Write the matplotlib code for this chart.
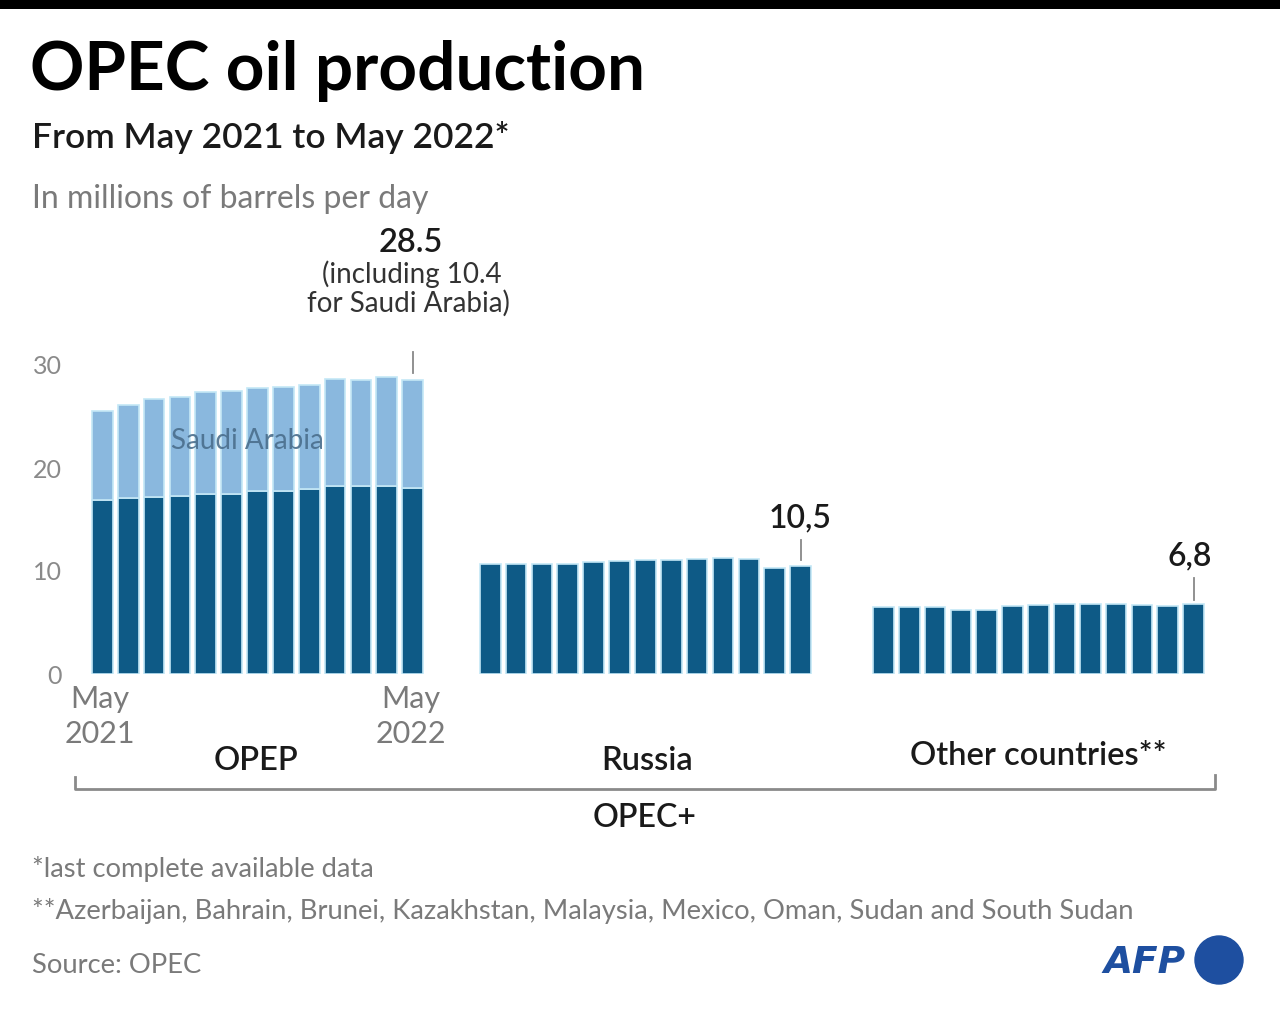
import numpy as np
import matplotlib
matplotlib.use('Agg')
import matplotlib.pyplot as plt
from matplotlib.patches import Circle
from matplotlib.transforms import IdentityTransform

# ── Data (millions of barrels per day, May 2021 -> May 2022) ──
months = ['May 2021', 'Jun', 'Jul', 'Aug', 'Sep', 'Oct', 'Nov', 'Dec',
          'Jan', 'Feb', 'Mar', 'Apr', 'May 2022']
opec_excl_saudi = [16.9, 17.1, 17.2, 17.3, 17.5, 17.5, 17.8, 17.8, 18.0, 18.3, 18.3, 18.3, 18.1]
saudi_arabia = [8.6, 9.0, 9.5, 9.6, 9.9, 10.0, 10.0, 10.1, 10.1, 10.3, 10.2, 10.5, 10.4]
russia = [10.7, 10.7, 10.7, 10.7, 10.9, 11.0, 11.1, 11.1, 11.2, 11.3, 11.2, 10.3, 10.5]
others = [6.5, 6.5, 6.5, 6.2, 6.2, 6.6, 6.7, 6.8, 6.8, 6.8, 6.7, 6.6, 6.8]
group_names = ['OPEP', 'Russia', 'Other countries**']
yticks = [0, 10, 20, 30]

DARK = '#0e5a86'
LIGHT = '#8ab8de'
EDGE = '#c4e7f6'
GREY = '#7a7a7a'
TEXT = '#1a1a1a'
FONT = 'Lato'

W, H = 1280, 1009
fig = plt.figure(figsize=(W / 100, H / 100), dpi=100)
fig.patch.set_facecolor('white')
plt.rcParams['font.family'] = [FONT, 'DejaVu Sans']


def fx(px):
    return px / W


def fy(py):
    return 1 - py / H


def ftext(px, py, s, **kw):
    fig.text(fx(px), fy(py), s, **kw)


# top black band
fig.add_artist(plt.Rectangle((0, fy(9)), 1, 9 / H, transform=fig.transFigure,
                             color='black', lw=0))

# ── Axes placed in pixel space ──
pitch = 25.86
ax_l, ax_r, ax_b, ax_t = 80, 1215, 674, 340
ax = fig.add_axes([fx(ax_l), fy(ax_b), (ax_r - ax_l) / W, (ax_b - ax_t) / H])
ax.set_xlim(-0.4 - (92 - ax_l) / pitch, -0.4 + (ax_r - 92) / pitch)
ax.set_ylim(0, (ax_b - ax_t) / 10.3)
for s in ax.spines.values():
    s.set_visible(False)
ax.set_xticks([])
ax.set_yticks(yticks)
ax.set_yticklabels([str(v) for v in yticks], fontsize=18, color='#8a8a8a')
ax.tick_params(axis='y', length=0, pad=13)
ax.patch.set_alpha(0)

offsets = [0, 15, 30.2]
n = len(months)
x0 = np.arange(n) + offsets[0]
x1 = np.arange(n) + offsets[1]
x2 = np.arange(n) + offsets[2]

ax.bar(x0, opec_excl_saudi, width=0.8, color=DARK, edgecolor=EDGE, linewidth=1.2)
ax.bar(x0, saudi_arabia, bottom=opec_excl_saudi, width=0.8, color=LIGHT,
       edgecolor=EDGE, linewidth=1.2)
ax.bar(x1, russia, width=0.8, color=DARK, edgecolor=EDGE, linewidth=1.2)
ax.bar(x2, others, width=0.8, color=DARK, edgecolor=EDGE, linewidth=1.2)

ax.text(5.6, 22.6, 'Saudi Arabia', ha='center', va='center', fontsize=20,
        color='#4a6e8c', alpha=0.9)

# leader ticks above last bars
tot_last = opec_excl_saudi[-1] + saudi_arabia[-1]
ax.plot([x0[-1], x0[-1]], [tot_last + 0.7, tot_last + 2.8], color='#888888', lw=1.3, clip_on=False)
ax.plot([x1[-1], x1[-1]], [russia[-1] + 0.6, russia[-1] + 2.5], color='#888888', lw=1.3, clip_on=False)
ax.plot([x2[-1], x2[-1]], [others[-1] + 0.4, others[-1] + 2.5], color='#888888', lw=1.3, clip_on=False)

# ── Titles ──
ftext(30, 90, 'OPEC oil production', fontsize=48.5, fontweight='bold', color='black', va='baseline')
ftext(32, 148, 'From May 2021 to May 2022*', fontsize=25.5, fontweight='semibold', color=TEXT, va='baseline')
ftext(32, 208, 'In millions of barrels per day', fontsize=23, color=GREY, va='baseline')

# annotations
ftext(411, 252, f'{tot_last:.1f}', fontsize=23.5, fontweight='semibold', color=TEXT, ha='center', va='baseline')
ftext(412, 283, f'(including {saudi_arabia[-1]:.1f}', fontsize=20, color='#333333', ha='center', va='baseline')
ftext(408, 312, 'for Saudi Arabia)', fontsize=20, color='#333333', ha='center', va='baseline')
ftext(800, 527, f'{russia[-1]:.1f}'.replace('.', ','), fontsize=23, fontweight='semibold', color=TEXT,
      ha='center', va='baseline')
ftext(1190, 565, f'{others[-1]:.1f}'.replace('.', ','), fontsize=23, fontweight='semibold', color=TEXT,
      ha='center', va='baseline')

# x labels
ftext(100, 708, 'May', fontsize=22, color=GREY, ha='center', va='baseline')
ftext(100, 743, '2021', fontsize=22, color=GREY, ha='center', va='baseline')
ftext(411, 708, 'May', fontsize=22, color=GREY, ha='center', va='baseline')
ftext(411, 743, '2022', fontsize=22, color=GREY, ha='center', va='baseline')

ftext(256, 770, group_names[0], fontsize=23.5, fontweight='semibold', color=TEXT, ha='center', va='baseline')
ftext(647, 770, group_names[1], fontsize=23.5, fontweight='semibold', color=TEXT, ha='center', va='baseline')
ftext(1038, 765, group_names[2], fontsize=23.5, fontweight='semibold', color=TEXT, ha='center', va='baseline')

# OPEC+ bracket
bx = [fx(75), fx(75), fx(1215), fx(1215)]
by = [fy(777), fy(789), fy(789), fy(775)]
fig.add_artist(plt.Line2D(bx, by, transform=fig.transFigure, color='#8a8a8a', lw=2))
ftext(645, 827, 'OPEC+', fontsize=23, fontweight='semibold', color=TEXT, ha='center', va='baseline')

# footnotes
ftext(32, 877, '*last complete available data', fontsize=19.7, color=GREY, va='baseline')
ftext(32, 919, '**Azerbaijan, Bahrain, Brunei, Kazakhstan, Malaysia, Mexico, Oman, Sudan and South Sudan',
      fontsize=19.7, color=GREY, va='baseline')
ftext(32, 973, 'Source: OPEC', fontsize=19.7, color=GREY, va='baseline')

# AFP logo
ftext(1103, 973, 'AFP', fontsize=27, fontweight='heavy', fontstyle='italic', color='#1e4fa0',
      va='baseline', family='DejaVu Sans')
logo = Circle((1219, H - 960), 24, transform=IdentityTransform(), color='#1e4fa0')
fig.add_artist(logo)

fig.savefig('out.png', dpi=100)
